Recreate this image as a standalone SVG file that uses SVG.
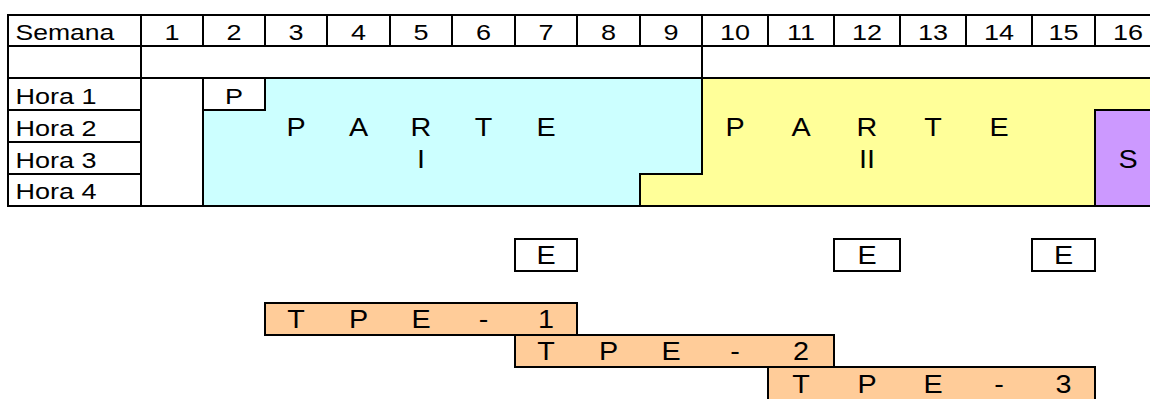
<svg xmlns="http://www.w3.org/2000/svg" width="1150" height="399" viewBox="0 0 1150 399">
  <style>
    .ln { stroke: #000; stroke-width: 2; fill: none; stroke-linecap: square; }
    .box { stroke: #000; stroke-width: 2; }
    .sm { font-family: "Liberation Sans", Arial, sans-serif; font-size: 22.5px; fill: #000; }
    .lg { font-family: "Liberation Sans", Arial, sans-serif; font-size: 25px; fill: #000; }
    .c { text-anchor: middle; }
    .cyan { fill: #CCFFFF; }
    .yel { fill: #FFFF99; }
    .pur { fill: #CC99FF; }
    .org { fill: #FFCC99; }
  </style>
  <rect width="1150" height="399" fill="#fff"/>

  <!-- coloured blocks of the schedule -->
  <g id="parte-1">
    <polygon class="cyan" points="203,110 265,110 265,78 702,78 702,174 640,174 640,206 203,206"/>
    <text class="lg c" transform="translate(296,136) scale(1.15,1)">P</text>
    <text class="lg c" transform="translate(358.5,136) scale(1.15,1)">A</text>
    <text class="lg c" transform="translate(421,136) scale(1.15,1)">R</text>
    <text class="lg c" transform="translate(483.5,136) scale(1.15,1)">T</text>
    <text class="lg c" transform="translate(546,136) scale(1.15,1)">E</text>
    <text class="lg c" transform="translate(421,168) scale(1.15,1)">I</text>
  </g>
  <g id="parte-2">
    <polygon class="yel" points="702,78 1160,78 1160,110 1095,110 1095,206 640,206 640,174 702,174"/>
    <text class="lg c" transform="translate(735,136) scale(1.15,1)">P</text>
    <text class="lg c" transform="translate(801,136) scale(1.15,1)">A</text>
    <text class="lg c" transform="translate(867,136) scale(1.15,1)">R</text>
    <text class="lg c" transform="translate(933,136) scale(1.15,1)">T</text>
    <text class="lg c" transform="translate(999,136) scale(1.15,1)">E</text>
    <text class="lg c" transform="translate(867,168) scale(1.15,1)">II</text>
  </g>
  <g id="semana-16">
    <rect class="pur" x="1095" y="110" width="70" height="96"/>
    <text class="lg c" transform="translate(1128,168) scale(1.15,1)">S</text>
  </g>
  <g id="presentacion">
    <text class="sm c" transform="translate(234,103.5) scale(1.2,1)">P</text>
  </g>

  <!-- grid lines -->
  <g id="grid">
    <line class="ln" x1="8" y1="15" x2="1160" y2="15"/>
    <line class="ln" x1="8" y1="46" x2="1160" y2="46"/>
    <line class="ln" x1="8" y1="78" x2="1160" y2="78"/>
    <line class="ln" x1="8" y1="206" x2="1160" y2="206"/>
    <line class="ln" x1="8" y1="15" x2="8" y2="206"/>
    <line class="ln" x1="141" y1="15" x2="141" y2="206"/>
    <line class="ln" x1="203" y1="15" x2="203" y2="46"/>
    <line class="ln" x1="203" y1="78" x2="203" y2="206"/>
    <line class="ln" x1="265" y1="15" x2="265" y2="46"/>
    <line class="ln" x1="327" y1="15" x2="327" y2="46"/>
    <line class="ln" x1="390" y1="15" x2="390" y2="46"/>
    <line class="ln" x1="452" y1="15" x2="452" y2="46"/>
    <line class="ln" x1="515" y1="15" x2="515" y2="46"/>
    <line class="ln" x1="577" y1="15" x2="577" y2="46"/>
    <line class="ln" x1="640" y1="15" x2="640" y2="46"/>
    <line class="ln" x1="702" y1="15" x2="702" y2="174"/>
    <line class="ln" x1="768" y1="15" x2="768" y2="46"/>
    <line class="ln" x1="834" y1="15" x2="834" y2="46"/>
    <line class="ln" x1="900" y1="15" x2="900" y2="46"/>
    <line class="ln" x1="966" y1="15" x2="966" y2="46"/>
    <line class="ln" x1="1032" y1="15" x2="1032" y2="46"/>
    <line class="ln" x1="1095" y1="15" x2="1095" y2="46"/>
    <!-- hour rows -->
    <line class="ln" x1="8" y1="110" x2="141" y2="110"/>
    <line class="ln" x1="8" y1="142" x2="141" y2="142"/>
    <line class="ln" x1="8" y1="174" x2="141" y2="174"/>
    <!-- P cell -->
    <line class="ln" x1="203" y1="110" x2="265" y2="110"/>
    <line class="ln" x1="265" y1="78" x2="265" y2="110"/>
    <!-- step between part I and part II -->
    <line class="ln" x1="640" y1="174" x2="702" y2="174"/>
    <line class="ln" x1="640" y1="174" x2="640" y2="206"/>
    <!-- S cell -->
    <line class="ln" x1="1095" y1="110" x2="1160" y2="110"/>
    <line class="ln" x1="1095" y1="110" x2="1095" y2="206"/>
  </g>

  <!-- header and row labels -->
  <g id="header">
    <text class="sm" transform="translate(15.5,39.5) scale(1.18,1)">Semana</text>
    <text class="sm c" transform="translate(172,39.5) scale(1.2,1)">1</text>
    <text class="sm c" transform="translate(234,39.5) scale(1.2,1)">2</text>
    <text class="sm c" transform="translate(296,39.5) scale(1.2,1)">3</text>
    <text class="sm c" transform="translate(358.5,39.5) scale(1.2,1)">4</text>
    <text class="sm c" transform="translate(421,39.5) scale(1.2,1)">5</text>
    <text class="sm c" transform="translate(483.5,39.5) scale(1.2,1)">6</text>
    <text class="sm c" transform="translate(546,39.5) scale(1.2,1)">7</text>
    <text class="sm c" transform="translate(608.5,39.5) scale(1.2,1)">8</text>
    <text class="sm c" transform="translate(671,39.5) scale(1.2,1)">9</text>
    <text class="sm c" transform="translate(735,39.5) scale(1.2,1)">10</text>
    <text class="sm c" transform="translate(801,39.5) scale(1.2,1)">11</text>
    <text class="sm c" transform="translate(867,39.5) scale(1.2,1)">12</text>
    <text class="sm c" transform="translate(933,39.5) scale(1.2,1)">13</text>
    <text class="sm c" transform="translate(999,39.5) scale(1.2,1)">14</text>
    <text class="sm c" transform="translate(1063.5,39.5) scale(1.2,1)">15</text>
    <text class="sm c" transform="translate(1128,39.5) scale(1.2,1)">16</text>
  </g>
  <g id="horas">
    <text class="sm" transform="translate(15.5,103.5) scale(1.2,1)">Hora 1</text>
    <text class="sm" transform="translate(15.5,135.5) scale(1.2,1)">Hora 2</text>
    <text class="sm" transform="translate(15.5,167.5) scale(1.2,1)">Hora 3</text>
    <text class="sm" transform="translate(15.5,199) scale(1.2,1)">Hora 4</text>
  </g>

  <!-- exam markers -->
  <g id="examen-1">
    <rect class="box" x="515" y="239" width="62" height="32" fill="#fff"/>
    <text class="lg c" transform="translate(546,264) scale(1.15,1)">E</text>
  </g>
  <g id="examen-2">
    <rect class="box" x="834" y="239" width="66" height="32" fill="#fff"/>
    <text class="lg c" transform="translate(867,264) scale(1.15,1)">E</text>
  </g>
  <g id="examen-3">
    <rect class="box" x="1032" y="239" width="63" height="32" fill="#fff"/>
    <text class="lg c" transform="translate(1063.5,264) scale(1.15,1)">E</text>
  </g>

  <!-- TPE bars -->
  <g id="tpe-1">
    <rect class="box org" x="265" y="303" width="312" height="32"/>
    <text class="lg c" transform="translate(296,328) scale(1.15,1)">T</text>
    <text class="lg c" transform="translate(358.5,328) scale(1.15,1)">P</text>
    <text class="lg c" transform="translate(421,328) scale(1.15,1)">E</text>
    <text class="lg c" transform="translate(483.5,328) scale(1.15,1)">-</text>
    <text class="lg c" transform="translate(546,328) scale(1.15,1)">1</text>
  </g>
  <g id="tpe-2">
    <rect class="box org" x="515" y="335" width="319" height="32"/>
    <text class="lg c" transform="translate(546,360) scale(1.15,1)">T</text>
    <text class="lg c" transform="translate(608.5,360) scale(1.15,1)">P</text>
    <text class="lg c" transform="translate(671,360) scale(1.15,1)">E</text>
    <text class="lg c" transform="translate(735,360) scale(1.15,1)">-</text>
    <text class="lg c" transform="translate(801,360) scale(1.15,1)">2</text>
  </g>
  <g id="tpe-3">
    <rect class="box org" x="768" y="367" width="327" height="36"/>
    <text class="lg c" transform="translate(801,392.5) scale(1.15,1)">T</text>
    <text class="lg c" transform="translate(867,392.5) scale(1.15,1)">P</text>
    <text class="lg c" transform="translate(933,392.5) scale(1.15,1)">E</text>
    <text class="lg c" transform="translate(999,392.5) scale(1.15,1)">-</text>
    <text class="lg c" transform="translate(1063.5,392.5) scale(1.15,1)">3</text>
  </g>
</svg>
